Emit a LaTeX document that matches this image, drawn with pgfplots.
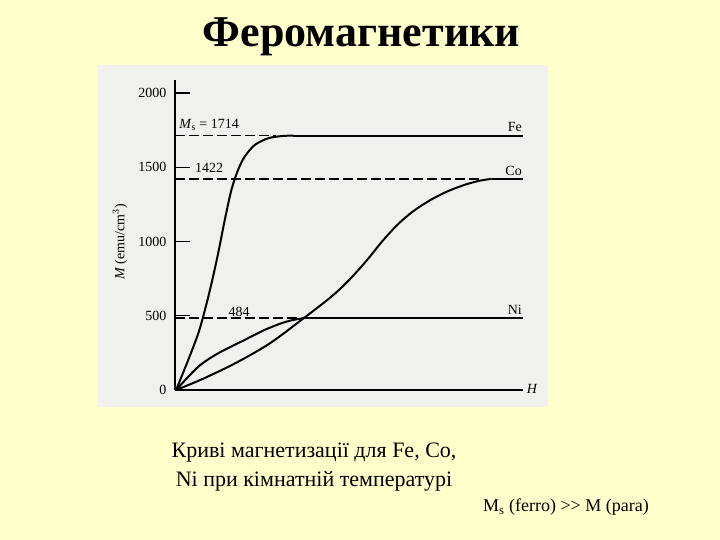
\documentclass[border=0pt]{standalone}
\usepackage{fontspec}
\setmainfont{Liberation Serif}
\usepackage{pgfplots}
\pgfplotsset{compat=1.18}
\definecolor{slidebg}{RGB}{255,255,204}
\definecolor{scanbg}{RGB}{240,240,237}
\begin{document}
\begin{tikzpicture}[x=1pt,y=1pt]
% slide and scanned figure backgrounds
\fill[slidebg] (0,0) rectangle (720,540);
\fill[scanbg] (98,133) rectangle (548,475);
\node[anchor=base, font=\fontsize{44}{44}\selectfont\bfseries] at (361.5,493) {Феромагнетики};

\begin{axis}[
  at={(175pt,150pt)}, anchor=south west,
  scale only axis,
  width=348pt, height=310pt,
  xmin=0, xmax=100,
  ymin=0, ymax=2088,
  axis lines=left,
  axis line style={-, line width=1.5pt},
  xtick=\empty,
  ytick={0,500,1000,1500,2000},
  tick align=inside,
  major tick length=15pt,
  tick style={line width=1.2pt, black},
  scaled ticks=false,
  /pgf/number format/1000 sep={},
  /pgf/number format/assume math mode=true,
  yticklabel style={font=\fontsize{14}{14}\selectfont, xshift=-5pt},
  ylabel={\textit{M} (emu/cm$^3$)},
  ylabel style={at={(axis description cs:-0.158,0.477)}, anchor=center,
    font=\fontsize{14}{14}\selectfont},
  clip=false,
]
% saturation levels, dashed up to where each curve meets them
\addplot[black, line width=1.6pt, dash pattern=on 10pt off 4pt] coordinates {(0,1714) (29,1714)};
\addplot[black, line width=1.6pt, dash pattern=on 10pt off 4pt] coordinates {(0,1422) (88,1422)};
\addplot[black, line width=1.6pt, dash pattern=on 10pt off 4pt] coordinates {(0,484) (36,484)};

% Fe
\addplot[black, line width=2pt, smooth, tension=0.5] coordinates {
  (0.3,0) (3.8,202) (6.7,382) (8.6,539) (10.5,719) (12.4,921) (14.3,1145)
  (16.2,1347) (18.1,1481) (20,1571) (22.9,1650) (26.7,1695) (30.5,1710) (34,1714)};
\addplot[black, line width=2pt] coordinates {(34,1714) (100,1714)};

% Co
\addplot[black, line width=2pt, smooth, tension=0.5] coordinates {
  (0.3,0) (8,75) (17.7,185) (27.3,315) (37,484) (45,630) (50,740) (55,870)
  (59.5,1000) (64,1115) (68.5,1205) (73.3,1278) (78,1335) (83,1380)
  (87.6,1410) (91,1422)};
\addplot[black, line width=2pt] coordinates {(91,1422) (100,1422)};

% Ni
\addplot[black, line width=2pt, smooth, tension=0.5] coordinates {
  (0.3,0) (6.7,157) (12.4,247) (20,337) (25.7,404) (30.5,449) (33.8,471) (37,484)};
\addplot[black, line width=2pt] coordinates {(37,484) (100,484)};

\node[font=\fontsize{14}{14}\selectfont] at (axis cs:9.8,1785) {\textit{M}\textsubscript{s} = 1714};
\node[font=\fontsize{14}{14}\selectfont] at (axis cs:9.8,1495) {1422};
\node[font=\fontsize{14}{14}\selectfont] at (axis cs:18.4,525) {484};
\node[font=\fontsize{14}{14}\selectfont, anchor=south east, inner sep=1pt] at (axis cs:100,1730) {Fe};
\node[font=\fontsize{14}{14}\selectfont, anchor=south east, inner sep=1pt] at (axis cs:100,1438) {Co};
\node[font=\fontsize{14}{14}\selectfont, anchor=south east, inner sep=1pt] at (axis cs:100,500) {Ni};
\node[font=\fontsize{14}{14}\selectfont\itshape, anchor=west, inner sep=2pt] at (axis cs:100.5,10) {H};
\end{axis}

\node[anchor=base, font=\fontsize{22}{22}\selectfont] at (314,82) {Криві магнетизації для Fe, Co,};
\node[anchor=base, font=\fontsize{22}{22}\selectfont] at (314,53) {Ni при кімнатній температурі};
\node[anchor=base west, inner sep=0pt, font=\fontsize{18}{18}\selectfont] at (483,28) {M\textsubscript{s} (ferro) >{}> M (para)};

\pgfresetboundingbox
\useasboundingbox (0,0) rectangle (720,540);
\end{tikzpicture}
\end{document}
